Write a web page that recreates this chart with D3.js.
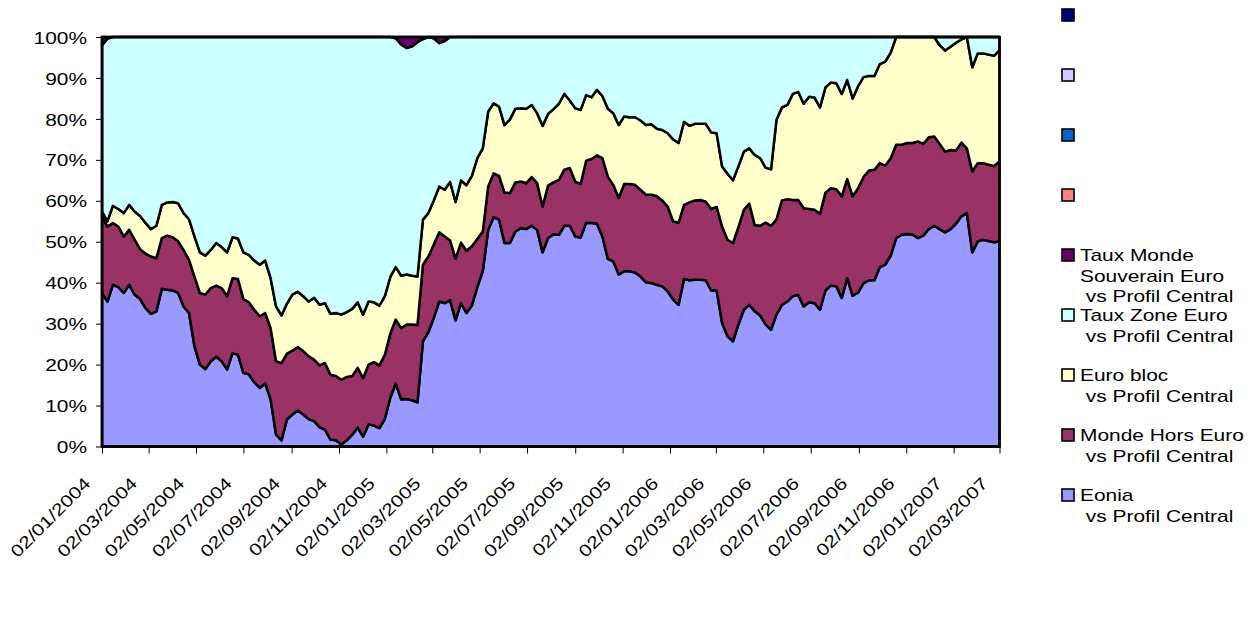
<!DOCTYPE html>
<html><head><meta charset="utf-8">
<script src="https://cdn.jsdelivr.net/npm/d3@7"></script>
<style>
body{margin:0;background:#fff}
text{font-family:"Liberation Sans",Arial,sans-serif;fill:#000;white-space:pre}
</style>
</head><body><svg id="chart" width="1255" height="627"></svg>
<script>
// ---- Data (weekly observations, shares in % of total) ----
const startDate = "2004-01-02";

const tickLabels = ["02/01/2004","02/03/2004","02/05/2004","02/07/2004","02/09/2004","02/11/2004",
  "02/01/2005","02/03/2005","02/05/2005","02/07/2005","02/09/2005","02/11/2005",
  "02/01/2006","02/03/2006","02/05/2006","02/07/2006","02/09/2006","02/11/2006",
  "02/01/2007","02/03/2007"];

const yTicks = [0,10,20,30,40,50,60,70,80,90,100];

const eonia = [
37.5,35.4,39.5,38.9,37.5,39.5,37.1,36.0,33.8,32.4,
33.0,38.5,38.3,38.1,37.5,34.2,32.6,24.5,20.0,18.9,
20.8,21.9,20.8,18.8,22.8,22.4,18.0,17.6,15.7,14.3,
15.4,11.5,2.9,1.5,6.6,7.8,8.8,7.8,6.7,6.2,
4.7,4.1,1.7,1.5,0.5,1.5,2.9,4.6,2.4,5.4,
5.1,4.5,6.7,11.9,15.4,11.5,11.6,11.3,10.8,25.7,
27.9,31.4,35.4,35.0,35.7,30.8,35.0,32.6,34.4,38.9,
42.8,52.9,56.0,55.4,49.7,49.7,52.5,53.3,53.1,53.9,
52.9,47.4,50.9,51.8,51.7,53.9,53.9,51.3,51.0,54.6,
54.6,54.4,51.3,45.8,45.2,42.0,42.8,42.8,42.5,41.5,
40.1,39.9,39.5,39.1,37.9,35.9,34.6,40.9,40.6,40.7,
40.7,40.6,38.1,38.1,30.2,26.9,25.7,29.8,33.4,34.6,
33.0,32.0,29.8,28.5,32.2,34.6,35.4,36.7,37.0,34.2,
35.2,35.0,33.4,38.1,39.3,39.1,36.3,41.1,36.8,37.6,
39.9,40.6,40.6,43.8,44.4,46.6,50.9,51.7,51.9,51.8,
50.9,51.5,53.1,53.9,53.1,52.3,53.1,54.4,56.2,57.0,
47.4,50.1,50.5,50.2,49.9,50.1];

const mondeHorsEuro = [
18.7,18.3,15.1,14.8,13.8,13.4,13.4,12.2,13.3,14.0,
13.0,12.4,13.2,13.0,12.6,13.8,13.0,17.0,17.5,18.2,
17.9,17.4,17.9,17.9,18.3,18.5,18.0,17.6,17.7,17.5,
17.2,17.4,17.9,18.9,16.1,15.6,15.5,15.5,15.3,15.0,
15.1,16.3,15.8,15.7,15.8,15.5,14.3,14.6,14.3,14.6,
15.5,15.3,15.7,15.7,15.6,17.4,18.2,18.5,18.9,18.7,
18.5,17.9,16.9,16.3,14.6,15.1,14.8,15.2,14.5,11.8,
9.7,10.6,10.7,10.7,12.3,12.2,12.0,11.4,11.2,11.9,
11.4,11.2,12.8,12.7,13.4,13.7,14.1,13.4,13.1,15.2,
15.6,16.7,19.1,20.1,18.7,18.7,21.3,21.3,21.4,21.2,
21.4,21.6,21.6,21.0,20.7,19.1,20.0,18.1,19.0,19.4,
19.5,19.2,19.9,20.4,23.5,23.6,24.0,23.8,24.4,24.7,
21.1,21.9,24.9,25.4,23.3,25.5,25.0,23.5,23.2,24.0,
22.8,22.8,23.4,23.9,23.8,23.7,24.8,24.2,24.3,25.5,
25.9,26.8,27.0,25.4,24.2,23.8,22.8,22.0,22.2,22.3,
23.6,22.4,22.4,21.8,20.8,19.7,19.3,17.9,18.0,15.8,
19.8,19.1,18.7,18.6,18.6,19.5];

const euroBloc = [
1.2,1.3,4.2,4.3,5.7,6.1,6.9,8.1,7.5,6.7,
7.9,8.1,8.1,8.6,9.3,9.0,9.9,9.8,9.9,9.5,
9.3,10.4,10.0,10.7,10.0,9.9,11.4,11.6,12.0,12.6,
12.8,12.2,13.4,11.6,12.2,13.7,13.5,13.4,13.4,15.1,
14.8,14.6,14.9,15.4,15.9,15.8,16.4,16.0,15.5,15.4,
14.6,14.6,14.3,13.8,12.8,12.8,12.2,11.9,11.8,11.0,
10.6,10.8,11.2,11.4,14.3,13.8,15.2,16.0,17.2,19.7,
20.3,18.3,17.1,16.9,16.5,18.0,18.0,17.9,18.2,17.6,
17.1,19.7,17.5,17.9,18.6,18.5,16.5,17.9,18.1,16.0,
15.1,16.0,15.2,16.6,17.5,17.8,16.5,16.3,16.5,16.9,
17.0,17.2,16.5,17.2,17.9,20.0,19.5,20.3,18.7,18.7,
18.6,19.0,18.7,18.0,14.7,16.1,15.3,14.8,14.2,13.5,
17.1,16.5,13.4,13.8,24.3,22.7,23.0,25.9,26.4,25.5,
27.4,27.4,26.0,25.7,25.8,25.9,25.0,24.2,23.9,24.9,
24.4,23.1,22.9,24.2,25.4,25.8,26.3,26.3,25.9,25.9,
25.5,26.1,24.5,24.3,24.1,24.7,25.2,26.3,25.2,27.2,
25.4,26.8,26.8,26.9,26.9,27.2];

const tauxZoneEuro = [
40.6,44.6,41.2,42.0,43.0,41.0,42.6,43.7,45.4,46.9,
46.1,41.0,40.4,40.3,40.6,43.0,44.5,48.7,52.6,53.4,
52.0,50.3,51.3,52.6,48.9,49.2,52.6,53.2,54.6,55.6,
54.6,58.9,65.8,68.0,65.1,62.9,62.2,63.3,64.6,63.7,
65.4,65.0,67.6,67.4,67.8,67.2,66.4,64.8,67.8,64.6,
64.8,65.6,63.3,58.6,55.9,56.5,55.3,56.0,57.3,44.1,
43.0,39.6,35.0,36.3,35.4,40.3,35.0,36.2,33.9,29.6,
27.2,18.2,16.2,17.0,21.5,20.1,17.5,17.4,17.5,16.6,
18.6,21.7,18.8,17.6,16.3,13.9,15.5,17.4,17.8,14.2,
14.7,12.9,14.4,17.5,18.6,21.5,19.4,19.6,19.6,20.4,
21.5,21.3,22.4,22.7,23.5,25.0,25.9,20.7,21.7,21.2,
21.2,21.2,23.3,23.5,31.6,33.4,35.0,31.6,28.0,27.2,
28.8,29.6,31.9,32.3,20.2,17.2,16.6,13.9,13.4,16.3,
14.6,14.8,17.2,12.3,11.1,11.3,13.9,10.5,15.0,12.0,
9.8,9.5,9.5,6.6,6.0,3.8,0,0,0,0,
0,0,0,0,2.0,3.3,2.4,1.4,0.6,0,
7.4,4.0,4.0,4.3,4.6,3.2];

const tauxMondeSouverain = [
2.0,0.4,0,0,0,0,0,0,0,0,
0,0,0,0,0,0,0,0,0,0,
0,0,0,0,0,0,0,0,0,0,
0,0,0,0,0,0,0,0,0,0,
0,0,0,0,0,0,0,0,0,0,
0,0,0,0,0.3,1.8,2.7,2.3,1.2,0.5,
0,0.3,1.5,1.0,0,0,0,0,0,0,
0,0,0,0,0,0,0,0,0,0,
0,0,0,0,0,0,0,0,0,0,
0,0,0,0,0,0,0,0,0,0,
0,0,0,0,0,0,0,0,0,0,
0,0,0,0,0,0,0,0,0,0,
0,0,0,0,0,0,0,0,0,0,
0,0,0,0,0,0,0,0,0,0,
0,0,0,0,0,0,0,0,0,0,
0,0,0,0,0,0,0,0,0,0,
0,0,0,0,0,0];

const seriesKeys = ["eonia","mondeHorsEuro","euroBloc","tauxZoneEuro","tauxMondeSouverain"];
const seriesColors = ["#9999FF","#993366","#FFFFCC","#CCFFFF","#660066"];

// legend, top to bottom (as in the original, including the four unnamed series)
const legendLabels = [[""],[""],[""],[""],
  ["Taux Monde","Souverain Euro"," vs Profil Central"],
  ["Taux Zone Euro"," vs Profil Central"],
  ["Euro bloc"," vs Profil Central"],
  ["Monde Hors Euro"," vs Profil Central"],
  ["Eonia"," vs Profil Central"]];
const legendColors = ["#000080","#CCCCFF","#0066CC","#FF8080","#660066","#CCFFFF","#FFFFCC","#993366","#9999FF"];

// ---- Chart ----
const svg = d3.select("#chart");
const plot = {left:102, right:999.5, top:37, bottom:446.5};
const SX = 1.23; // horizontal stretch of the original text
const FS = 17;

const start = d3.timeParse("%Y-%m-%d")(startDate);
const dates = eonia.map((_, i) => d3.timeDay.offset(start, 7 * i));
const src = {eonia, mondeHorsEuro, euroBloc, tauxZoneEuro, tauxMondeSouverain};
const rows = dates.map((d, i) => {
  const r = {date: d};
  seriesKeys.forEach(k => r[k] = src[k][i]);
  return r;
});

const x = d3.scaleTime().domain(d3.extent(dates)).range([plot.left, plot.right]);
const y = d3.scaleLinear().domain([0, 100]).range([plot.bottom, plot.top]).clamp(true);

const stacked = d3.stack().keys(seriesKeys)(rows);
const area = d3.area()
  .x(d => x(d.data.date))
  .y0(d => y(d[0]))
  .y1(d => y(d[1]));

svg.append("g").selectAll("path").data(stacked).join("path")
  .attr("d", area)
  .attr("fill", (d, i) => seriesColors[i])
  .attr("stroke", "#000")
  .attr("stroke-width", 2.5)
  .attr("stroke-linejoin", "round");

// frame lines
svg.append("rect").attr("x", plot.left).attr("y", plot.top)
  .attr("width", plot.right - plot.left).attr("height", plot.bottom - plot.top)
  .attr("fill", "none").attr("stroke", "#000").attr("stroke-width", 2.5);

// y axis
const yAxis = svg.append("g").attr("transform", `translate(${plot.left},0)`)
  .call(d3.axisLeft(y).tickValues(yTicks).tickSize(6).tickSizeOuter(0).tickFormat(d => d + "%"));
yAxis.select(".domain").attr("stroke", "#000").attr("stroke-width", 1.5);
yAxis.selectAll(".tick line").attr("stroke", "#000");
yAxis.selectAll(".tick text")
  .attr("x", 0).attr("dy", "0.36em")
  .attr("font-size", FS).attr("font-family", "Liberation Sans, Arial, sans-serif")
  .attr("transform", `translate(-15,0) scale(${SX},1)`);

// x axis
const parseTick = d3.timeParse("%d/%m/%Y");
const tickDates = tickLabels.map(parseTick);
const xAxis = svg.append("g").attr("transform", `translate(0,${plot.bottom})`)
  .call(d3.axisBottom(x).tickValues(tickDates).tickSize(7).tickSizeOuter(0)
    .tickFormat((d, i) => tickLabels[i]));
xAxis.select(".domain").attr("stroke", "#000").attr("stroke-width", 1.5);
xAxis.selectAll(".tick line").attr("stroke", "#000");
xAxis.selectAll(".tick text")
  .attr("x", 0).attr("y", 0).attr("dy", 0)
  .attr("text-anchor", "end")
  .attr("font-size", FS).attr("font-family", "Liberation Sans, Arial, sans-serif")
  .attr("transform", `translate(-11,38) rotate(-45) scale(${SX},1)`);

// legend
const lg = svg.append("g");
legendLabels.forEach((lines, i) => {
  const cy = 15 + i * 60;
  lg.append("rect").attr("x", 1062).attr("y", cy - 6).attr("width", 12).attr("height", 12)
    .attr("fill", legendColors[i]).attr("stroke", "#000").attr("stroke-width", 1.6);
  lines.forEach((t, j) => {
    lg.append("text")
      .attr("transform", `translate(1080,${cy + j * 20.5}) scale(${SX},1)`)
      .attr("dy", "0.36em").attr("font-size", FS)
      .text(t);
  });
});
</script>
</body></html>
